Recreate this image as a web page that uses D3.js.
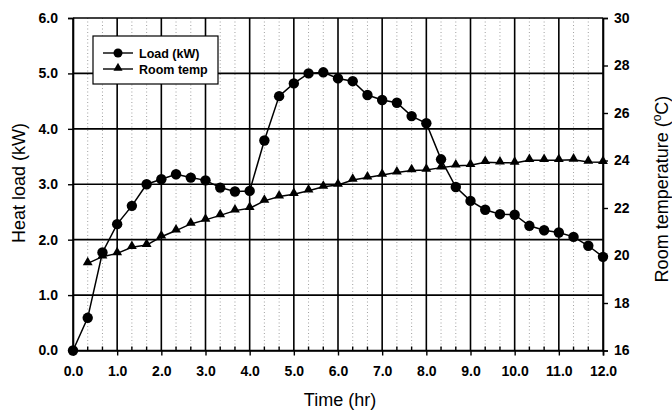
<!DOCTYPE html>
<html>
<head>
<meta charset="utf-8">
<script src="https://cdn.jsdelivr.net/npm/d3@7/dist/d3.min.js"></script>
<style>
    body { margin: 0; background: #fff; }
    svg { display: block; font-family: "Liberation Sans", Arial, sans-serif; }
    .tick text { font-weight: bold; font-size: 14px; fill: #000; }
</style>
</head>
<body>
<svg id="chart" width="672" height="411"></svg>
<script>
// time every 20 min
var timeHr = [0, 0.333, 0.667, 1, 1.333, 1.667, 2, 2.333, 2.667, 3, 3.333, 3.667, 4,
    4.333, 4.667, 5, 5.333, 5.667, 6, 6.333, 6.667, 7, 7.333, 7.667, 8,
    8.333, 8.667, 9, 9.333, 9.667, 10, 10.333, 10.667, 11, 11.333, 11.667, 12];

var loadKW = [0.00, 0.59, 1.77, 2.28, 2.61, 3.00, 3.09, 3.18, 3.12, 3.07, 2.94, 2.87, 2.88,
    3.79, 4.59, 4.82, 5.00, 5.02, 4.91, 4.86, 4.61, 4.52, 4.47, 4.23, 4.10,
    3.45, 2.95, 2.70, 2.54, 2.46, 2.45, 2.25, 2.17, 2.13, 2.05, 1.89, 1.69];

// no room temp reading at t=0
var roomTemp = [null, 19.67, 19.95, 20.09, 20.35, 20.44, 20.79, 21.05, 21.33, 21.50, 21.69, 21.89, 21.99,
    22.30, 22.48, 22.58, 22.73, 22.89, 22.97, 23.18, 23.28, 23.39, 23.49, 23.58, 23.60,
    23.70, 23.78, 23.80, 23.93, 23.91, 23.90, 24.01, 24.01, 24.01, 24.03, 23.94, 23.93];

var xTicks = [0, 1, 2, 3, 4, 5, 6, 7, 8, 9, 10, 11, 12];
var loadTicks = [0, 1, 2, 3, 4, 5, 6];
var tempTicks = [16, 18, 20, 22, 24, 26, 28, 30];

// plot box (window.top is taken, hence the prefix)
var pLeft = 73, pRight = 603, pTop = 18, pBottom = 350.5;

var svg = d3.select('#chart');

var x = d3.scaleLinear().domain([0, 12]).range([pLeft, pRight]);
var yLoad = d3.scaleLinear().domain([0, 6]).range([pBottom, pTop]);
var yTemp = d3.scaleLinear().domain([16, 30]).range([pBottom, pTop]);

function drawGrid(){
    var minor = timeHr.filter(function(t){ return Math.abs(t - Math.round(t)) > 0.01; });

    svg.append('g').selectAll('line').data(minor).enter().append('line')
        .attr('x1', function(d){ return x(d); }).attr('x2', function(d){ return x(d); })
        .attr('y1', pTop).attr('y2', pBottom)
        .attr('stroke', '#a0a0a0').attr('stroke-width', 1)
        .attr('stroke-dasharray', '1,2.5');

    svg.append('g').selectAll('line').data(xTicks).enter().append('line')
        .attr('x1', function(d){ return x(d); }).attr('x2', function(d){ return x(d); })
        .attr('y1', pTop).attr('y2', pBottom)
        .attr('stroke', '#000').attr('stroke-width', 1.6);

    svg.append('g').selectAll('line').data(loadTicks).enter().append('line')
        .attr('x1', pLeft).attr('x2', pRight)
        .attr('y1', function(d){ return yLoad(d); }).attr('y2', function(d){ return yLoad(d); })
        .attr('stroke', '#000').attr('stroke-width', 1.6);

    // small inner ticks on the time axis
    svg.append('g').selectAll('line').data(minor).enter().append('line')
        .attr('x1', function(d){ return x(d); }).attr('x2', function(d){ return x(d); })
        .attr('y1', pBottom).attr('y2', pBottom - 4)
        .attr('stroke', '#000').attr('stroke-width', 1.4);
}

function drawAxes(){
    var xAxis = d3.axisBottom(x).tickValues(xTicks).tickFormat(d3.format('.1f'))
        .tickSize(5).tickPadding(11);
    svg.append('g').attr('transform', 'translate(0,' + pBottom + ')').call(xAxis);

    var lAxis = d3.axisLeft(yLoad).tickValues(loadTicks).tickFormat(d3.format('.1f'))
        .tickSize(5).tickPadding(10);
    svg.append('g').attr('transform', 'translate(' + pLeft + ',0)').call(lAxis);

    var rAxis = d3.axisRight(yTemp).tickValues(tempTicks).tickFormat(d3.format('d'))
        .tickSize(5).tickPadding(6);
    svg.append('g').attr('transform', 'translate(' + pRight + ',0)').call(rAxis);

    svg.selectAll('.domain').attr('stroke', '#000').attr('stroke-width', 1.6);
    svg.selectAll('.tick line').attr('stroke', '#000').attr('stroke-width', 1.4);

    svg.append('text')
        .attr('x', 340).attr('y', 406)
        .attr('text-anchor', 'middle')
        .style('font-size', '18px')
        .text('Time (hr)');

    svg.append('text')
        .attr('transform', 'translate(25,183) rotate(-90)')
        .attr('text-anchor', 'middle')
        .style('font-size', '18px')
        .text('Heat load (kW)');

    var rt = svg.append('text')
        .attr('transform', 'translate(668,189) rotate(-90)')
        .attr('text-anchor', 'middle')
        .style('font-size', '18px');
    rt.append('tspan').text('Room temperature (');
    rt.append('tspan').attr('dy', -7).style('font-size', '12px').text('o');
    rt.append('tspan').attr('dy', 7).text('C)');
}

function drawSeries(){
    var loadLine = d3.line()
        .x(function(d, i){ return x(timeHr[i]); })
        .y(function(d){ return yLoad(d); });

    var tempLine = d3.line()
        .defined(function(d){ return d !== null; })
        .x(function(d, i){ return x(timeHr[i]); })
        .y(function(d){ return yTemp(d); });

    svg.append('path').datum(roomTemp).attr('d', tempLine)
        .attr('fill', 'none').attr('stroke', '#000').attr('stroke-width', 1.5);
    svg.append('path').datum(loadKW).attr('d', loadLine)
        .attr('fill', 'none').attr('stroke', '#000').attr('stroke-width', 1.5);

    var tri = d3.symbol().type(d3.symbolTriangle).size(42);
    svg.append('g').selectAll('path')
        .data(roomTemp.map(function(v, i){ return {t: timeHr[i], v: v}; })
            .filter(function(d){ return d.v !== null; }))
        .enter().append('path')
        .attr('d', tri)
        .attr('transform', function(d){ return 'translate(' + x(d.t) + ',' + (yTemp(d.v) - 1) + ')'; })
        .attr('fill', '#000');

    svg.append('g').selectAll('circle').data(loadKW).enter().append('circle')
        .attr('cx', function(d, i){ return x(timeHr[i]); })
        .attr('cy', function(d){ return yLoad(d); })
        .attr('r', 5.2)
        .attr('fill', '#000');
}

function drawLegend(){
    var g = svg.append('g');
    g.append('rect')
        .attr('x', 93).attr('y', 36).attr('width', 125).attr('height', 48)
        .attr('fill', '#fff').attr('stroke', '#000').attr('stroke-width', 1.2);

    var items = [{label: 'Load (kW)', y: 53, mark: 'circle'}, {label: 'Room temp', y: 69, mark: 'tri'}];
    items.forEach(function(it){
        g.append('line').attr('x1', 103).attr('x2', 133).attr('y1', it.y).attr('y2', it.y)
            .attr('stroke', '#000').attr('stroke-width', 1.4);
        if (it.mark == 'circle') {
            g.append('circle').attr('cx', 118).attr('cy', it.y).attr('r', 4.5).attr('fill', '#000');
        } else {
            g.append('path').attr('d', d3.symbol().type(d3.symbolTriangle).size(36))
                .attr('transform', 'translate(118,' + (it.y - 1) + ')').attr('fill', '#000');
        }
        g.append('text').attr('x', 139).attr('y', it.y + 4.5)
            .style('font-size', '12.5px').style('font-weight', 'bold')
            .text(it.label);
    });
}

drawGrid();
drawAxes();
drawSeries();
drawLegend();
</script>
</body>
</html>
